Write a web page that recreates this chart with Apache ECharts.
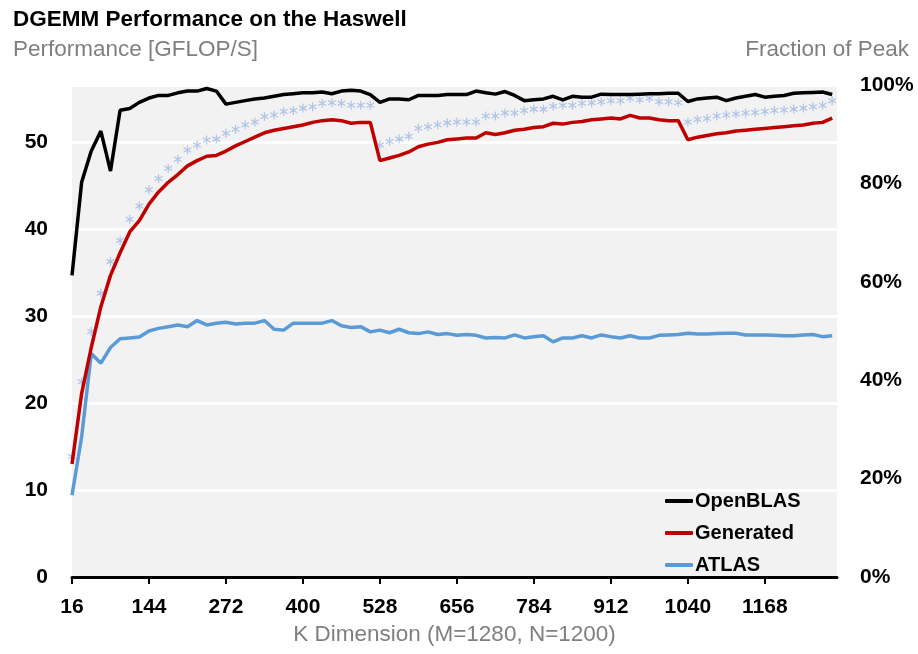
<!DOCTYPE html>
<html>
<head>
<meta charset="utf-8">
<title>DGEMM Performance on the Haswell</title>
<script src="https://cdn.jsdelivr.net/npm/echarts@6/dist/echarts.min.js"></script>
<style>
  html, body { margin: 0; padding: 0; background: #fff; }
  #chart { width: 918px; height: 654px; }
</style>
</head>
<body>
<div id="chart"></div>
<script>
// K dimension, one point every 16
var kValues = [16, 32, 48, 64, 80, 96, 112, 128, 144, 160,
    176, 192, 208, 224, 240, 256, 272, 288, 304, 320,
    336, 352, 368, 384, 400, 416, 432, 448, 464, 480,
    496, 512, 528, 544, 560, 576, 592, 608, 624, 640,
    656, 672, 688, 704, 720, 736, 752, 768, 784, 800,
    816, 832, 848, 864, 880, 896, 912, 928, 944, 960,
    976, 992, 1008, 1024, 1040, 1056, 1072, 1088, 1104, 1120,
    1136, 1152, 1168, 1184, 1200, 1216, 1232, 1248, 1264, 1280];
var xTicks = [16, 144, 272, 400, 528, 656, 784, 912, 1040, 1168];

// GFLOP/S
var openblas = [34.7, 45.4, 49.0, 51.3, 46.7, 53.7, 53.9, 54.6, 55.1, 55.4,
    55.4, 55.7, 55.9, 55.9, 56.2, 55.9, 54.4, 54.6, 54.8, 55.0,
    55.1, 55.3, 55.5, 55.6, 55.7, 55.7, 55.8, 55.6, 55.9, 56.0,
    55.9, 55.5, 54.6, 55.0, 55.0, 54.9, 55.4, 55.4, 55.4, 55.5,
    55.5, 55.5, 55.9, 55.7, 55.55, 55.85, 55.4, 54.8, 54.9, 55.0,
    55.3, 54.9, 55.3, 55.2, 55.2, 55.55, 55.5, 55.5, 55.5, 55.55,
    55.6, 55.6, 55.65, 55.65, 54.7, 55.0, 55.1, 55.2, 54.8, 55.1,
    55.3, 55.5, 55.2, 55.3, 55.4, 55.65, 55.7, 55.75, 55.8, 55.5];
var generated = [13.0, 21.1, 26.4, 31.1, 34.7, 37.3, 39.7, 41.0, 42.9, 44.3,
    45.4, 46.3, 47.3, 47.9, 48.4, 48.5, 49.0, 49.6, 50.1, 50.6,
    51.1, 51.4, 51.6, 51.8, 52.0, 52.3, 52.5, 52.6, 52.5, 52.2,
    52.3, 52.3, 47.9, 48.2, 48.5, 48.9, 49.5, 49.8, 50.0, 50.3,
    50.4, 50.5, 50.5, 51.1, 50.9, 51.1, 51.4, 51.5, 51.7, 51.8,
    52.2, 52.1, 52.3, 52.4, 52.6, 52.7, 52.8, 52.7, 53.1, 52.8,
    52.8, 52.6, 52.5, 52.5, 50.3, 50.6, 50.8, 51.0, 51.1, 51.3,
    51.4, 51.5, 51.6, 51.7, 51.8, 51.9, 52.0, 52.2, 52.3, 52.8];
var atlas = [9.4, 16.1, 25.7, 24.6, 26.4, 27.4, 27.5, 27.6, 28.3, 28.6,
    28.8, 29.0, 28.8, 29.5, 29.0, 29.2, 29.3, 29.1, 29.2, 29.2,
    29.5, 28.5, 28.4, 29.2, 29.2, 29.2, 29.2, 29.5, 28.9, 28.7,
    28.8, 28.2, 28.4, 28.1, 28.5, 28.1, 28.0, 28.2, 27.9, 28.0,
    27.8, 27.9, 27.8, 27.5, 27.55, 27.5, 27.85, 27.5, 27.65, 27.75,
    27.05, 27.5, 27.5, 27.75, 27.5, 27.85, 27.65, 27.5, 27.75, 27.5,
    27.5, 27.8, 27.85, 27.9, 28.05, 27.95, 27.95, 28.0, 28.05, 28.05,
    27.85, 27.85, 27.85, 27.8, 27.75, 27.75, 27.85, 27.9, 27.65, 27.75];
// fraction of peak (right axis), drawn as markers only
var peakFraction = [0.245, 0.397, 0.499, 0.577, 0.641, 0.684, 0.727, 0.754, 0.787, 0.810,
    0.831, 0.849, 0.868, 0.878, 0.888, 0.890, 0.902, 0.910, 0.919, 0.925,
    0.936, 0.939, 0.946, 0.948, 0.953, 0.956, 0.963, 0.964, 0.963, 0.959,
    0.959, 0.959, 0.878, 0.885, 0.890, 0.896, 0.912, 0.915, 0.919, 0.923,
    0.925, 0.925, 0.925, 0.937, 0.937, 0.943, 0.943, 0.948, 0.951, 0.951,
    0.957, 0.959, 0.959, 0.963, 0.964, 0.966, 0.968, 0.968, 0.973, 0.970,
    0.973, 0.966, 0.966, 0.964, 0.925, 0.930, 0.932, 0.937, 0.939, 0.941,
    0.943, 0.944, 0.946, 0.948, 0.949, 0.951, 0.953, 0.956, 0.959, 0.968];

var font = "'Liberation Sans', Arial, sans-serif";

function pairs(values) {
    return values.map(function (v, i) { return [kValues[i], v]; });
}

function lineSeries(name, values, color) {
    return {
        name: name,
        type: 'line',
        data: pairs(values),
        showSymbol: false,
        symbol: 'none',
        lineStyle: { color: color, width: 3.5 },
        itemStyle: { color: color }
    };
}

var option = {
    animation: false,
    textStyle: { fontFamily: font },
    title: [
        { text: 'DGEMM Performance on the Haswell', left: 8, top: 3,
          textStyle: { fontFamily: font, fontSize: 22.5, fontWeight: 'bold', color: '#000' } },
        { text: 'Performance [GFLOP/S]', left: 8, top: 33,
          textStyle: { fontFamily: font, fontSize: 22.5, fontWeight: 'normal', color: '#7f7f7f' } },
        { text: 'Fraction of Peak', right: 4, top: 33,
          textStyle: { fontFamily: font, fontSize: 22.5, fontWeight: 'normal', color: '#7f7f7f' } }
    ],
    legend: {
        data: ['OpenBLAS', 'Generated', 'ATLAS'],
        orient: 'vertical',
        left: 660,
        top: 486,
        icon: 'roundRect',
        itemWidth: 28,
        itemHeight: 4,
        itemGap: 12,
        textStyle: { fontFamily: font, fontSize: 20, fontWeight: 'bold', color: '#000', lineHeight: 20, padding: [0, 0, 0, -3] }
    },
    grid: {
        left: 72,
        right: 81,
        top: 85,
        bottom: 77,
        show: true,
        backgroundColor: '#f2f2f2',
        borderWidth: 0
    },
    xAxis: {
        type: 'value',
        min: 16,
        max: 1288,
        name: 'K Dimension (M=1280, N=1200)',
        nameLocation: 'middle',
        nameGap: 45,
        nameTextStyle: { fontFamily: font, fontSize: 22.5, color: '#7f7f7f' },
        axisLine: { show: true, lineStyle: { color: '#000', width: 3 } },
        axisTick: { show: true, customValues: xTicks, length: 7, lineStyle: { color: '#000', width: 2 } },
        axisLabel: {
            customValues: xTicks, margin: 20, fontFamily: font, fontSize: 21, fontWeight: 'bold', color: '#000',
            formatter: function (v) { return String(v); }
        },
        splitLine: { show: false }
    },
    yAxis: [
        {
            type: 'value',
            min: 0,
            max: 56.6,
            interval: 10,
            axisLine: { show: false },
            axisTick: { show: false },
            axisLabel: { showMaxLabel: false, margin: 24, fontFamily: font, fontSize: 21, fontWeight: 'bold', color: '#000' },
            splitLine: { show: true, lineStyle: { color: '#fff', width: 3 } }
        },
        {
            type: 'value',
            min: 0,
            max: 1,
            interval: 0.2,
            position: 'right',
            axisLine: { show: false },
            axisTick: { show: false },
            axisLabel: {
                margin: 23, fontFamily: font, fontSize: 21, fontWeight: 'bold', color: '#000',
                formatter: function (v) { return Math.round(v * 100) + '%'; }
            },
            splitLine: { show: false }
        }
    ],
    series: [
        {
            name: 'Fraction of Peak',
            type: 'scatter',
            yAxisIndex: 1,
            data: pairs(peakFraction),
            symbol: 'path://M5,0L5,10M0.67,2.5L9.33,7.5M0.67,7.5L9.33,2.5',
            symbolKeepAspect: true,
            symbolSize: 9,
            itemStyle: { color: 'rgba(0,0,0,0)', borderColor: '#9fb8e3', borderWidth: 1.2 },
            z: 1
        },
        lineSeries('ATLAS', atlas, '#5b9bd5'),
        lineSeries('Generated', generated, '#c00000'),
        lineSeries('OpenBLAS', openblas, '#000000')
    ]
};

var chart = echarts.init(document.getElementById('chart'), null, { renderer: 'canvas' });
chart.setOption(option);
</script>
</body>
</html>
